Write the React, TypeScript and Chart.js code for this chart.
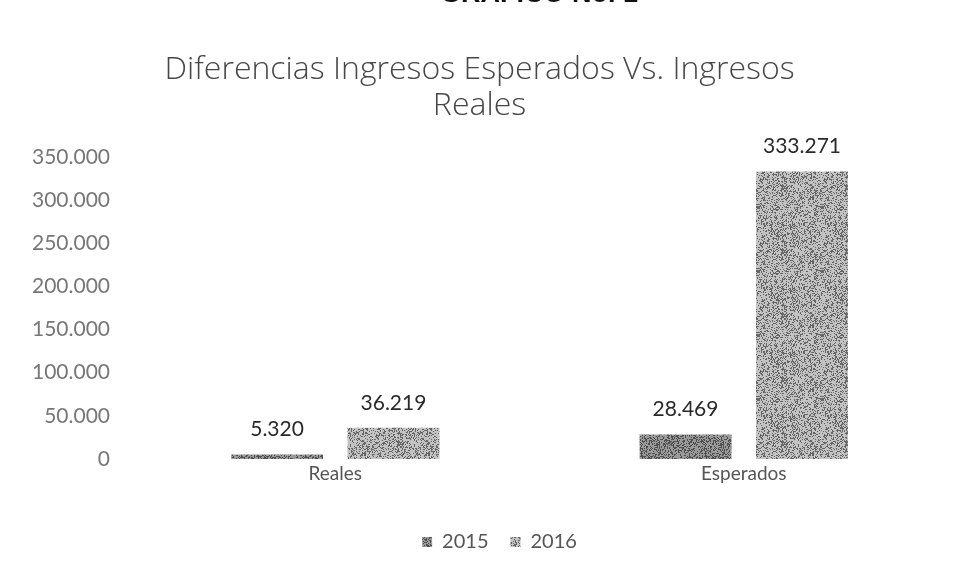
import React, { useEffect, useRef } from "react";
import { Chart, registerables } from "chart.js";

Chart.register(...registerables);

const categories = ["Reales", "Esperados"];
const seriesLabels = ["2015", "2016"];
const values2015 = [5320, 28469];
const values2016 = [36219, 333271];
const yMin = 0;
const yMax = 350000;
const yStep = 50000;
const headerText = "GRÁFICO No. 1";
const titleLines = ["Diferencias Ingresos Esperados Vs. Ingresos", "Reales"];

function fmt(v: number): string {
  return String(v).replace(/\B(?=(\d{3})+(?!\d))/g, ".");
}

function makeTexture(base: string, dark: string, density: number, seed: number): CanvasPattern | string {
  const size = 64;
  const c = document.createElement("canvas");
  c.width = size;
  c.height = size;
  const ctx = c.getContext("2d");
  if (!ctx) return base;
  ctx.fillStyle = base;
  ctx.fillRect(0, 0, size, size);
  let s = seed;
  ctx.fillStyle = dark;
  for (let y = 0; y < size; y++) {
    for (let x = 0; x < size; x++) {
      s = (s * 1103515245 + 12345) & 0x7fffffff;
      if ((s % 1000) / 1000 < density) ctx.fillRect(x, y, 1, 1);
    }
  }
  return ctx.createPattern(c, "repeat") || base;
}

const valueLabels = {
  id: "valueLabels",
  afterDatasetsDraw(chart: any) {
    const ctx = chart.ctx;
    ctx.save();
    ctx.font = "21px Lato";
    ctx.fillStyle = "#2a2a2a";
    ctx.textAlign = "center";
    ctx.textBaseline = "middle";
    chart.data.datasets.forEach((ds: any, i: number) => {
      const meta = chart.getDatasetMeta(i);
      meta.data.forEach((bar: any, j: number) => {
        ctx.fillText(fmt(ds.data[j]), bar.x, bar.y - 25);
      });
    });
    ctx.restore();
  },
};

const header = {
  id: "header",
  afterDraw(chart: any) {
    const ctx = chart.ctx;
    ctx.save();
    ctx.font = "bold 27px 'Liberation Sans'";
    ctx.fillStyle = "#111";
    ctx.textAlign = "center";
    ctx.textBaseline = "alphabetic";
    ctx.fillText(headerText, 539, 2);
    ctx.restore();
  },
};

const legendShift = {
  id: "legendShift",
  afterLayout(chart: any) {
    const lg = chart.legend;
    if (lg) {
      lg.left += 20;
      lg.right += 20;
    }
  },
};

export default function App() {
  const ref = useRef<HTMLCanvasElement>(null);
  useEffect(() => {
    if (!ref.current) return;
    const tex2015 = makeTexture("#9a9a9a", "#505050", 0.38, 7);
    const tex2016 = makeTexture("#c2c2c2", "#666", 0.32, 13);
    const chart = new Chart(ref.current, {
      type: "bar",
      data: {
        labels: categories,
        datasets: [
          { label: seriesLabels[0], data: values2015, backgroundColor: tex2015 as any, borderWidth: 0 },
          { label: seriesLabels[1], data: values2016, backgroundColor: tex2016 as any, borderWidth: 0 },
        ],
      },
      options: {
        responsive: false,
        animation: false,
        layout: { padding: { top: 0, right: 16, bottom: 14, left: 11 } },
        datasets: { bar: { categoryPercentage: 0.57, barPercentage: 0.79 } },
        scales: {
          x: {
            grid: { display: false, drawTicks: false },
            border: { display: false },
            ticks: { color: "#555", font: { family: "Lato", size: 19 }, padding: 3 },
            afterFit: (scale: any) => {
              scale.height = 51;
            },
          },
          y: {
            min: yMin,
            max: yMax,
            grid: { display: false, drawTicks: false },
            border: { display: false },
            ticks: {
              stepSize: yStep,
              color: "#777",
              font: { family: "Lato", size: 21 },
              padding: 21,
              callback: (v: any) => fmt(Number(v)),
            },
          },
        },
        plugins: {
          title: {
            display: true,
            text: titleLines,
            color: "#474747",
            font: { family: "'Open Sans'", size: 32, weight: "300" as any, lineHeight: "36px" },
            padding: { top: 52, bottom: 33 },
          },
          legend: {
            position: "bottom",
            labels: {
              color: "#555",
              font: { family: "Lato", size: 20 },
              boxWidth: 10,
              boxHeight: 10,
              padding: 22,
            },
          },
          tooltip: { enabled: false },
        },
      },
      plugins: [valueLabels, header, legendShift],
    });
    return () => chart.destroy();
  }, []);
  return (
    <div style={{ position: "fixed", left: 0, top: 0, width: 964, height: 576, background: "#fff" }}>
      <canvas ref={ref} width={964} height={576} style={{ display: "block" }} />
    </div>
  );
}
